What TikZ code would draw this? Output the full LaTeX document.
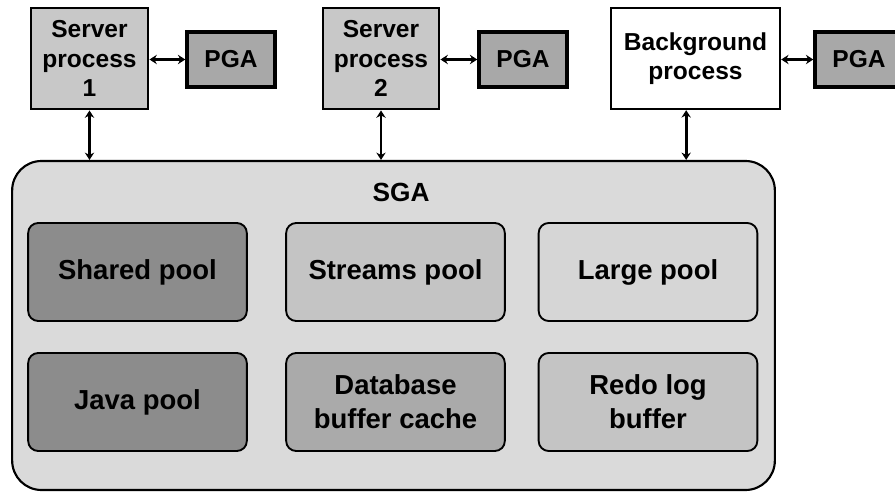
\documentclass[tikz,border=0pt]{standalone}
\usepackage{fontspec}
\setmainfont{Liberation Sans}
\usepackage{tikz}
\usetikzlibrary{arrows.meta,positioning}

\definecolor{procgray}{HTML}{C8C8C8}
\definecolor{pgagray}{HTML}{A8A8A8}
\definecolor{sgagray}{HTML}{DADADA}
\definecolor{darkpool}{HTML}{8C8C8C}
\definecolor{midpool}{HTML}{AAAAAA}
\definecolor{lightpool}{HTML}{C4C4C4}
\definecolor{palepool}{HTML}{D6D6D6}

\begin{document}
\begin{tikzpicture}[x=0.75pt, y=-0.75pt, >={Stealth[length=5.5pt,width=7pt]},
  proc/.style={draw, line width=2.2pt, fill=procgray, align=center, inner sep=0pt,
    minimum height=75.75pt, font=\bfseries\fontsize{18.4}{22}\selectfont},
  pga/.style={draw, line width=2.6pt, fill=pgagray, inner sep=0pt,
    minimum width=66pt, minimum height=41.25pt, font=\bfseries\fontsize{18.4}{22}\selectfont},
  pool/.style={draw, line width=1.4pt, rounded corners=7.5pt, align=center, inner sep=0pt,
    minimum width=164pt, minimum height=73.5pt, font=\bfseries\fontsize{20.6}{25.5}\selectfont},
  link/.style={<->, line width=2.2pt}]
   \useasboundingbox (0,0) rectangle (895,492);

   %processes
   \node[proc, minimum width=87.75pt] (sp1) at (89.5,58.5) {Server\\process\\1};
   \node[pga] (pga1) at (231,59.5) {PGA};
   \node[proc, minimum width=87pt] (sp2) at (381,58.5) {Server\\process\\2};
   \node[pga] (pga2) at (523,59.5) {PGA};
   \node[proc, fill=white, line width=1.8pt, minimum width=126.75pt] (bgp) at (695.5,58.5) {Background\\process};
   \node[pga] (pga3) at (859,59.5) {PGA};

   %sga
   \node[draw, line width=1.6pt, fill=sgagray, rounded corners=22pt, inner sep=0pt,
     minimum width=572pt, minimum height=246.75pt] (sga) at (393.5,325.5) {};
   \node[font=\bfseries\fontsize{19.7}{23}\selectfont] (sgatitle) at (401,192) {SGA};

   %pools
   \node[pool, fill=darkpool] (shared) at (137.5,272) {Shared pool};
   \node[pool, fill=lightpool] (streams) at (395.5,272) {Streams pool};
   \node[pool, fill=palepool] (large) at (648,272) {Large pool};
   \node[pool, fill=darkpool] (java) at (137.5,402) {Java pool};
   \node[pool, fill=midpool] (dbcache) at (395.5,402) {Database\\buffer cache};
   \node[pool, fill=lightpool] (redo) at (648,402) {Redo log\\buffer};

  \path[link]
    (sp1.east |- pga1) edge (pga1.west)
    (sp2.east |- pga2) edge (pga2.west)
    (bgp.east |- pga3) edge (pga3.west)
    (sp1.south) edge (sp1.south |- sga.north)
    (sp2.south) edge (sp2.south |- sga.north)
    ([xshift=-7pt]bgp.south) edge ([xshift=-7pt]bgp.south |- sga.north);
\end{tikzpicture}
\end{document}
